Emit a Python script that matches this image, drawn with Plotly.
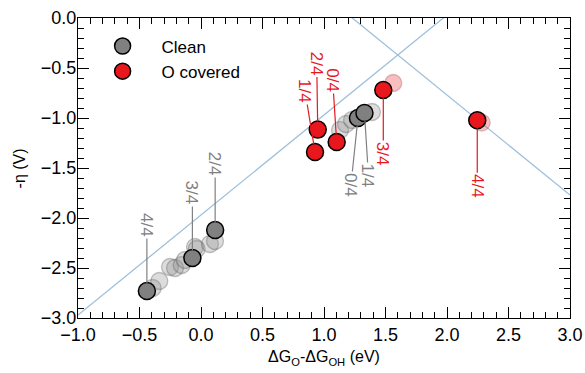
import plotly.graph_objects as go

# ---------------- data ----------------
# Clean surface (solid grey points with coverage labels)
clean_x = [-0.44, -0.07, 0.115, 1.276, 1.329]
clean_y = [-2.73, -2.40, -2.12, -1.00, -0.95]
clean_labels = ["4/4", "3/4", "2/4", "0/4", "1/4"]

# Clean surface, faded (other configurations)
clean_faded_x = [-0.393, -0.339, -0.252, -0.211, -0.157, -0.130, -0.049, -0.035, 0.073, 0.114,
                 1.130, 1.179, 1.228, 1.390]
clean_faded_y = [-2.70, -2.63, -2.49, -2.50, -2.47, -2.42, -2.29, -2.31, -2.26, -2.23,
                 -1.12, -1.06, -1.02, -0.94]

# O-covered surface (solid red points with coverage labels)
ocov_x = [0.927, 0.949, 1.103, 1.482, 2.246]
ocov_y = [-1.34, -1.116, -1.24, -0.72, -1.023]
ocov_labels = ["1/4", "2/4", "0/4", "3/4", "4/4"]

# O-covered, faded
ocov_faded_x = [1.563, 2.282]
ocov_faded_y = [-0.65, -1.046]

# Volcano limiting lines: -eta = x - 1.97 and -eta = 1.23 - x
line_x = [-1.0, 3.0]
line1_y = [x - 1.97 for x in line_x]
line2_y = [1.23 - x for x in line_x]

# label offsets (pixels) -- layout only
clean_offsets = [(0, -66), (0, -65), (0, -66), (-7, 67), (4, 63)]
ocov_offsets = [(-10, -61), (-1, -66), (-4, -62), (0, 64), (0, 66)]

FONT = "Liberation Sans, Arial, sans-serif"
GREY = "#808080"
RED = "#e8171e"
BLUE = "#9dc0dc"
NB = "\u00a0" * 4

fig = go.Figure()

fig.add_trace(go.Scatter(x=line_x, y=line1_y, mode="lines",
                         line=dict(color=BLUE, width=1.3), showlegend=False, hoverinfo="skip"))
fig.add_trace(go.Scatter(x=line_x, y=line2_y, mode="lines",
                         line=dict(color=BLUE, width=1.3), showlegend=False, hoverinfo="skip"))

fig.add_trace(go.Scatter(x=clean_faded_x, y=clean_faded_y, mode="markers", showlegend=False,
                         marker=dict(size=17, color="rgba(140,140,140,0.3)",
                                     line=dict(color="rgba(90,90,90,0.35)", width=1.3))))
fig.add_trace(go.Scatter(x=ocov_faded_x, y=ocov_faded_y, mode="markers", showlegend=False,
                         marker=dict(size=17, color="rgba(232,23,30,0.28)",
                                     line=dict(color="rgba(150,60,60,0.3)", width=1.3))))

fig.add_trace(go.Scatter(x=clean_x, y=clean_y, mode="markers", name=NB + "Clean",
                         marker=dict(size=17, color=GREY, line=dict(color="black", width=1.5))))
fig.add_trace(go.Scatter(x=ocov_x, y=ocov_y, mode="markers", name=NB + "O covered",
                         marker=dict(size=17, color=RED, line=dict(color="black", width=1.5))))

annotations = []
for xs, ys, labs, offs, col in [(clean_x, clean_y, clean_labels, clean_offsets, GREY),
                                (ocov_x, ocov_y, ocov_labels, ocov_offsets, RED)]:
    for x, y, lab, (ax, ay) in zip(xs, ys, labs, offs):
        annotations.append(dict(x=x, y=y, text=lab, textangle=90, showarrow=True,
                                arrowhead=0, arrowwidth=1.2, arrowcolor=col,
                                ax=ax, ay=ay, standoff=8, borderpad=1,
                                font=dict(family=FONT, size=17, color=col)))

# y-axis title as a paper-positioned annotation
annotations.append(dict(x=-0.119, y=0.5, xref="paper", yref="paper", text="-η (V)",
                        textangle=-90, showarrow=False, xanchor="center", yanchor="middle",
                        font=dict(family=FONT, size=16, color="black")))

axis_common = dict(showline=True, linecolor="black", linewidth=1.3, mirror="ticks",
                   ticks="inside", ticklen=11, tickwidth=1.3, tickcolor="black",
                   showgrid=False, zeroline=False, dtick=0.5, tickformat=".1f",
                   automargin=False,
                   tickfont=dict(family=FONT, size=18, color="black"),
                   minor=dict(ticks="inside", dtick=0.1, ticklen=6, tickwidth=1.1,
                              tickcolor="black", showgrid=False))

fig.update_xaxes(range=[-1, 3], tick0=-1,
                 title=dict(text="ΔG<sub>O</sub>-ΔG<sub>OH</sub> (eV)",
                            font=dict(family=FONT, size=16, color="black"), standoff=7),
                 **axis_common)
fig.update_yaxes(range=[-3, 0], tick0=-3, ticklabelstandoff=-3, **axis_common)

fig.update_layout(width=585, height=373,
                  margin=dict(l=78, r=15, t=18, b=55),
                  plot_bgcolor="white", paper_bgcolor="white",
                  font=dict(family=FONT, size=17, color="black"),
                  annotations=annotations,
                  legend=dict(x=0.05, y=0.965, xanchor="left", yanchor="top",
                              bgcolor="rgba(0,0,0,0)", font=dict(family=FONT, size=17),
                              tracegroupgap=0))

fig.write_html("out.html")
